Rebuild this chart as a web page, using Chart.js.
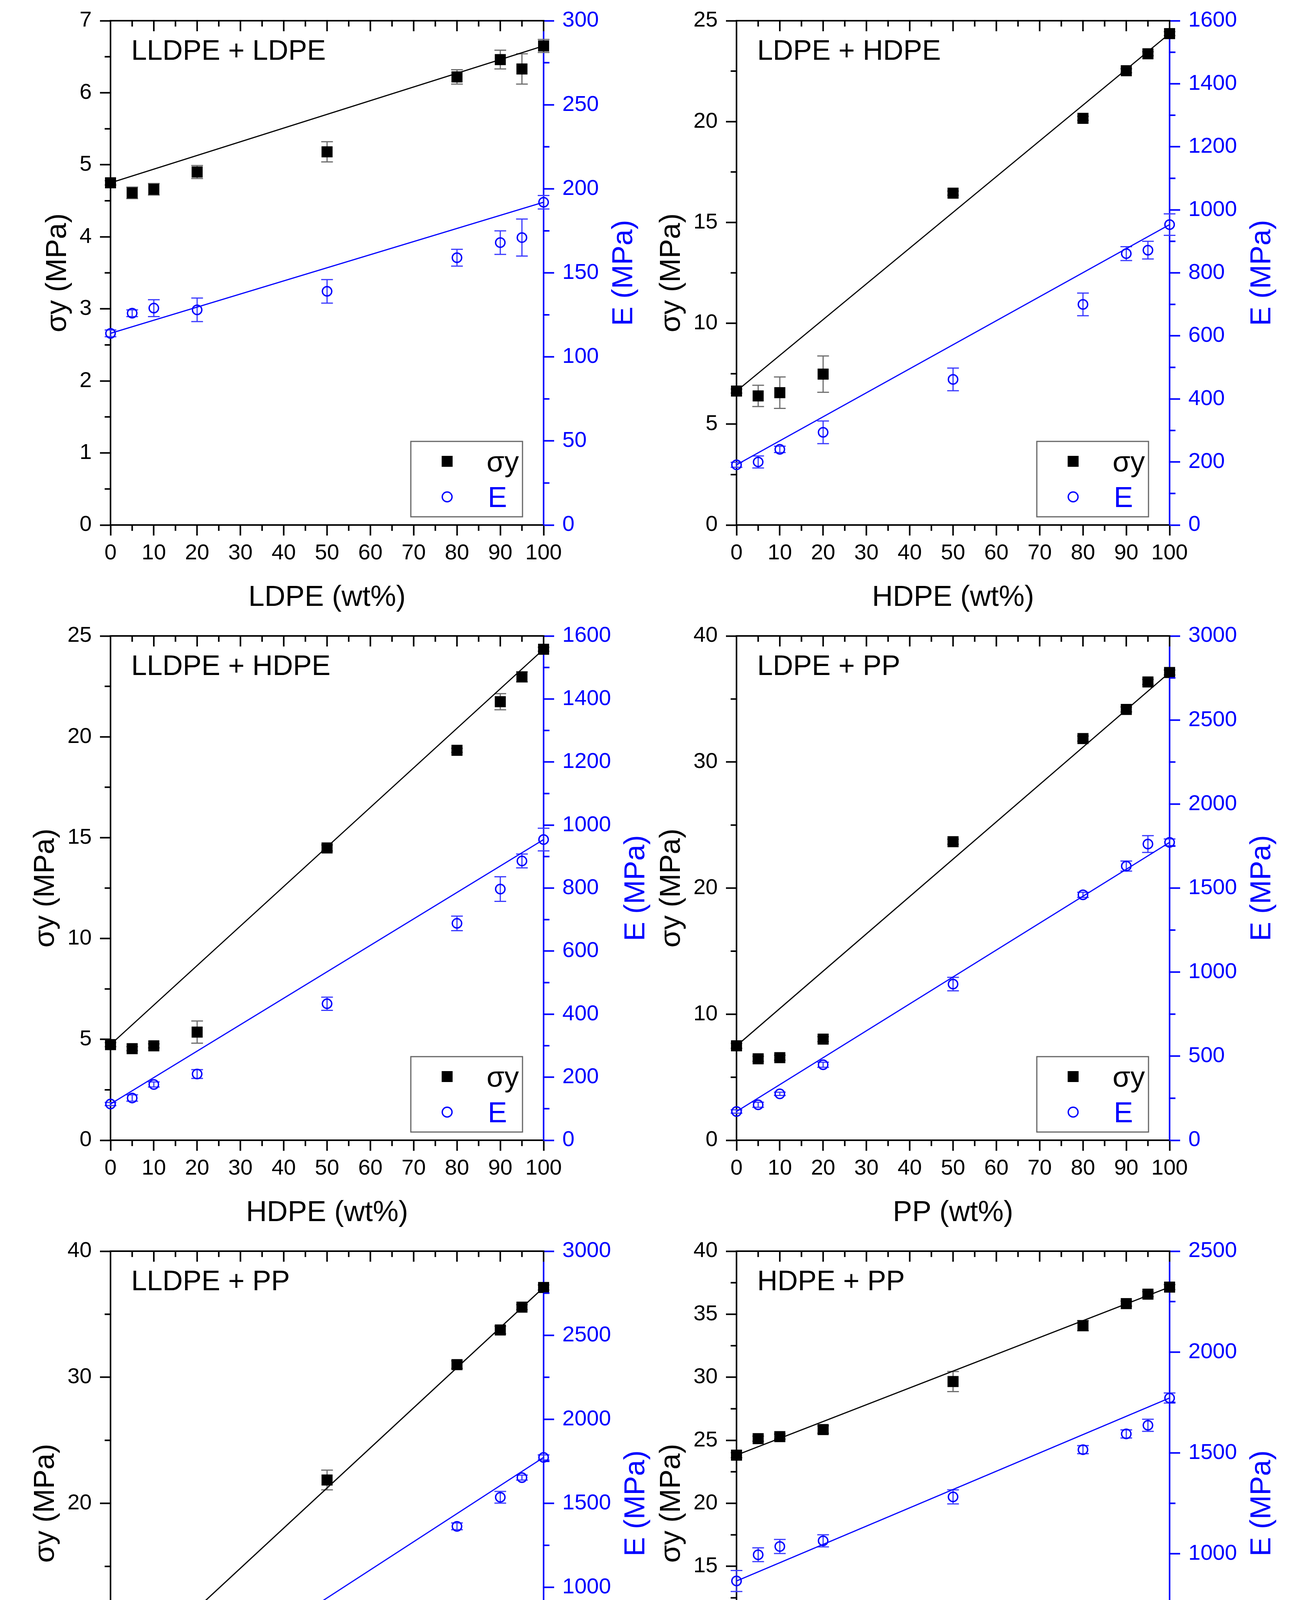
<!DOCTYPE html>
<html>
<head>
<meta charset="utf-8">
<script src="https://cdn.jsdelivr.net/npm/chart.js@4.4.1/dist/chart.umd.min.js"></script>
<style>
  html, body { margin: 0; padding: 0; background: #fff; }
  body { width: 3352px; height: 4730px; position: relative; overflow: hidden; }
  canvas { position: absolute; }
</style>
</head>
<body>
<canvas id="c0"></canvas>
<canvas id="c1"></canvas>
<canvas id="c2"></canvas>
<canvas id="c3"></canvas>
<canvas id="c4"></canvas>
<canvas id="c5"></canvas>
<script>
// composition of the blends (wt% of the second polymer)
const blendX = [0, 5, 10, 20, 50, 80, 90, 95, 100];

// LLDPE + LDPE
const sigLLDPE_LDPE    = [4.75, 4.61, 4.66, 4.90, 5.18, 6.22, 6.46, 6.33, 6.65];
const sigErrLLDPE_LDPE = [0.03, 0.08, 0.08, 0.09, 0.14, 0.10, 0.13, 0.21, 0.09];
const modLLDPE_LDPE    = [114, 126, 129, 128, 139, 159, 168, 171, 192];
const modErrLLDPE_LDPE = [2, 2, 5, 7, 7, 5, 7, 11, 4];

// LDPE + HDPE
const sigLDPE_HDPE    = [6.64, 6.40, 6.56, 7.48, 16.45, 20.16, 22.52, 23.36, 24.36];
const sigErrLDPE_HDPE = [0.1, 0.53, 0.78, 0.9, 0.1, 0.1, 0.1, 0.1, 0.1];
const modLDPE_HDPE    = [191, 200, 240, 294, 462, 700, 861, 872, 953];
const modErrLDPE_HDPE = [8, 19, 10, 36, 36, 36, 22, 28, 34];

// LLDPE + HDPE
const sigLLDPE_HDPE    = [4.74, 4.54, 4.68, 5.36, 14.49, 19.33, 21.74, 22.97, 24.34];
const sigErrLLDPE_HDPE = [0.1, 0.1, 0.1, 0.55, 0.15, 0.1, 0.4, 0.25, 0.1];
const modLLDPE_HDPE    = [115, 134, 177, 210, 433, 688, 797, 886, 954];
const modErrLLDPE_HDPE = [5, 10, 8, 14, 21, 23, 39, 22, 36];

// LDPE + PP
const sigLDPE_PP    = [7.49, 6.46, 6.55, 8.02, 23.68, 31.86, 34.17, 36.35, 37.10];
const sigErrLDPE_PP = [0.2, 0.2, 0.2, 0.2, 0.2, 0.2, 0.2, 0.2, 0.2];
const modLDPE_PP    = [171, 211, 276, 449, 929, 1460, 1631, 1762, 1772];
const modErrLDPE_PP = [10, 15, 10, 15, 40, 15, 30, 50, 20];

// LLDPE + PP
const sigLLDPE_PP    = [5.31, 5.71, 6.09, 7.02, 21.85, 31.0, 33.75, 35.56, 37.12];
const sigErrLLDPE_PP = [0.2, 0.2, 0.2, 0.56, 0.78, 0.3, 0.3, 0.2, 0.2];
const modLLDPE_PP    = [101, 133, 157, 288, 794, 1363, 1536, 1653, 1773];
const modErrLLDPE_PP = [10, 10, 12, 40, 43, 20, 35, 15, 15];

// HDPE + PP
const sigHDPE_PP    = [23.82, 25.13, 25.29, 25.85, 29.66, 34.09, 35.84, 36.59, 37.15];
const sigErrHDPE_PP = [0.2, 0.2, 0.2, 0.3, 0.8, 0.4, 0.2, 0.2, 0.2];
const modHDPE_PP    = [865, 995, 1036, 1064, 1282, 1516, 1594, 1637, 1772];
const modErrHDPE_PP = [52, 34, 35, 30, 35, 20, 20, 30, 25];

const panelTitles = ['LLDPE + LDPE', 'LDPE + HDPE', 'LLDPE + HDPE', 'LDPE + PP', 'LLDPE + PP', 'HDPE + PP'];
const xTitles = ['LDPE (wt%)', 'HDPE (wt%)', 'HDPE (wt%)', 'PP (wt%)', 'PP (wt%)', 'PP (wt%)'];
const xTicks = [0, 10, 20, 30, 40, 50, 60, 70, 80, 90, 100];
const sigMax  = [7, 25, 25, 40, 40, 40];
const sigStep = [1, 5, 5, 10, 10, 5];
const modMax  = [300, 1600, 1600, 3000, 3000, 2500];
const modStep = [50, 200, 200, 500, 500, 500];
const legendLabels = ['σy', 'E'];
const leftTitle = 'σy (MPa)';
const rightTitle = 'E (MPa)';

const sigSeries = [sigLLDPE_LDPE, sigLDPE_HDPE, sigLLDPE_HDPE, sigLDPE_PP, sigLLDPE_PP, sigHDPE_PP];
const sigErrSeries = [sigErrLLDPE_LDPE, sigErrLDPE_HDPE, sigErrLLDPE_HDPE, sigErrLDPE_PP, sigErrLLDPE_PP, sigErrHDPE_PP];
const modSeries = [modLLDPE_LDPE, modLDPE_HDPE, modLLDPE_HDPE, modLDPE_PP, modLLDPE_PP, modHDPE_PP];
const modErrSeries = [modErrLLDPE_LDPE, modErrLDPE_HDPE, modErrLLDPE_HDPE, modErrLDPE_PP, modErrLLDPE_PP, modErrHDPE_PP];

const BLUE = '#0000ff';
const FONT = "'Liberation Sans', Arial, sans-serif";
const CW = 1749, CH = 1575;
const COL_STEP = 1603, ROW_STEP = 1575;
const PAD_TOP = 53, Y_W = 283, PLOT_W = 1109, PLOT_H = 1291;
const MAJOR = 27, MINOR = 15, TICK_W = 4;

Chart.defaults.font.family = FONT;

function points(ys) {
    return blendX.map((x, k) => ({ x: x, y: ys[k] }));
}

function ends(ys) {
    const n = blendX.length - 1;
    return [{ x: blendX[0], y: ys[0] }, { x: blendX[n], y: ys[n] }];
}

const decor = {
    id: 'decor',
    beforeDatasetsDraw(chart, args, o) {
        const ctx = chart.ctx;
        const xs = chart.scales.x;
        // error bars
        [[o.sig, o.sigErr, chart.scales.y, '#6e6e6e'], [o.mod, o.modErr, chart.scales.y2, '#3a3aff']].forEach(([vals, errs, sc, col]) => {
            ctx.save();
            ctx.strokeStyle = col;
            ctx.lineWidth = 3;
            vals.forEach((v, k) => {
                const px = xs.getPixelForValue(blendX[k]);
                const t = sc.getPixelForValue(v + errs[k]);
                const b = sc.getPixelForValue(v - errs[k]);
                ctx.beginPath();
                ctx.moveTo(px, t); ctx.lineTo(px, b);
                ctx.moveTo(px - 15, t); ctx.lineTo(px + 15, t);
                ctx.moveTo(px - 15, b); ctx.lineTo(px + 15, b);
                ctx.stroke();
            });
            ctx.restore();
        });
    },
    afterDraw(chart, args, o) {
        const ctx = chart.ctx;
        const a = chart.chartArea;
        const xs = chart.scales.x, ys = chart.scales.y, y2 = chart.scales.y2;
        ctx.save();
        ctx.lineWidth = TICK_W;

        // top frame line with inward ticks, minor ticks on the bottom
        ctx.strokeStyle = '#000';
        ctx.beginPath();
        ctx.moveTo(a.left - 2, a.top); ctx.lineTo(a.right + 2, a.top);
        for (let v = 0; v <= 100; v += 5) {
            const px = xs.getPixelForValue(v);
            const len = v % 10 === 0 ? MAJOR : MINOR;
            ctx.moveTo(px, a.top); ctx.lineTo(px, a.top + len);
            if (v % 10 !== 0) { ctx.moveTo(px, a.bottom); ctx.lineTo(px, a.bottom + MINOR); }
        }
        ctx.stroke();

        // minor ticks left axis
        ctx.beginPath();
        for (let v = o.sigStep / 2; v < o.sigMax; v += o.sigStep) {
            const py = ys.getPixelForValue(v);
            ctx.moveTo(a.left, py); ctx.lineTo(a.left - MINOR, py);
        }
        ctx.stroke();

        // minor ticks right axis
        ctx.strokeStyle = BLUE;
        ctx.beginPath();
        for (let v = o.modStep / 2; v < o.modMax; v += o.modStep) {
            const py = y2.getPixelForValue(v);
            ctx.moveTo(a.right, py); ctx.lineTo(a.right + MINOR, py);
        }
        ctx.stroke();

        // axis titles
        ctx.font = '56px ' + FONT;
        const wl = Math.max(...ys.ticks.map(t => ctx.measureText(String(t.value)).width));
        const wr = Math.max(...y2.ticks.map(t => ctx.measureText(String(t.value)).width));
        const cy = (a.top + a.bottom) / 2;
        ctx.font = '74px ' + FONT;
        ctx.textAlign = 'center';
        ctx.textBaseline = 'middle';
        ctx.fillStyle = '#000';
        ctx.fillText(o.xTitle, (a.left + a.right) / 2, a.bottom + 187);

        ctx.save();
        ctx.translate(a.left - MAJOR - 21 - wl - 55, cy);
        ctx.rotate(-Math.PI / 2);
        ctx.fillText(leftTitle, 0, 0);
        ctx.restore();

        ctx.save();
        ctx.fillStyle = BLUE;
        ctx.translate(a.right + MAJOR + 21 + wr + 65, cy);
        ctx.rotate(-Math.PI / 2);
        ctx.fillText(rightTitle, 0, 0);
        ctx.restore();

        // panel label
        ctx.font = '72px ' + FONT;
        ctx.textAlign = 'left';
        ctx.textBaseline = 'alphabetic';
        ctx.fillText(o.title, a.left + 53, a.top + 100);

        // legend box
        const bw = 286, bh = 193;
        const bx = a.right - 54 - bw, by = a.bottom - 21 - bh;
        ctx.fillStyle = '#fff';
        ctx.fillRect(bx, by, bw, bh);
        ctx.strokeStyle = '#666';
        ctx.lineWidth = 3;
        ctx.strokeRect(bx, by, bw, bh);
        const mx = bx + 93;
        ctx.fillStyle = '#000';
        ctx.fillRect(mx - 14, by + 37, 28, 28);
        ctx.strokeStyle = BLUE;
        ctx.lineWidth = 3.5;
        ctx.beginPath();
        ctx.arc(mx, by + 142, 12.5, 0, Math.PI * 2);
        ctx.stroke();
        ctx.font = '74px ' + FONT;
        ctx.fillStyle = '#000';
        ctx.fillText(legendLabels[0], bx + 194, by + 77);
        ctx.fillStyle = BLUE;
        ctx.fillText(legendLabels[1], bx + 197, by + 168);
        ctx.restore();
    }
};

function makeChart(i) {
    const col = i % 2, row = Math.floor(i / 2);
    const cv = document.getElementById('c' + i);
    cv.width = CW;
    cv.height = CH;
    cv.style.left = (col * COL_STEP) + 'px';
    cv.style.top = (row * ROW_STEP) + 'px';
    const sig = sigSeries[i], mod = modSeries[i];

    new Chart(cv, {
        type: 'scatter',
        data: {
            datasets: [
                { data: points(sig), yAxisID: 'y', pointStyle: 'rect', pointRadius: 20,
                  backgroundColor: '#000', borderColor: '#000', borderWidth: 0, clip: false, order: 1 },
                { data: points(mod), yAxisID: 'y2', pointStyle: 'circle', pointRadius: 12,
                  backgroundColor: 'rgba(0,0,0,0)', borderColor: BLUE, borderWidth: 3.5, clip: false, order: 1 },
                { type: 'line', data: ends(sig), yAxisID: 'y', borderColor: '#000', borderWidth: 3,
                  pointRadius: 0, fill: false, order: 2 },
                { type: 'line', data: ends(mod), yAxisID: 'y2', borderColor: BLUE, borderWidth: 3,
                  pointRadius: 0, fill: false, order: 2 }
            ]
        },
        options: {
            responsive: false,
            animation: false,
            devicePixelRatio: 1,
            layout: { padding: { top: PAD_TOP, left: 0, right: 0, bottom: 0 }, autoPadding: false },
            plugins: {
                legend: { display: false },
                tooltip: { enabled: false },
                decor: {
                    title: panelTitles[i], xTitle: xTitles[i],
                    sig: sig, sigErr: sigErrSeries[i], mod: mod, modErr: modErrSeries[i],
                    sigMax: sigMax[i], sigStep: sigStep[i], modMax: modMax[i], modStep: modStep[i]
                }
            },
            scales: {
                x: {
                    type: 'linear', position: 'bottom', min: xTicks[0], max: xTicks[xTicks.length - 1],
                    afterBuildTicks(s) { s.ticks = xTicks.map(v => ({ value: v })); },
                    ticks: { autoSkip: false, maxRotation: 0, color: '#000', font: { size: 56, lineHeight: 1 },
                             padding: 18, callback: v => String(v) },
                    grid: { drawOnChartArea: false, drawTicks: true, tickLength: MAJOR, tickWidth: TICK_W, tickColor: '#000' },
                    border: { display: true, color: '#000', width: TICK_W },
                    afterFit(s) { s.height = CH - PAD_TOP - PLOT_H; }
                },
                y: {
                    type: 'linear', position: 'left', min: 0, max: sigMax[i],
                    ticks: { stepSize: sigStep[i], autoSkip: false, color: '#000', font: { size: 56, lineHeight: 1 },
                             padding: 21, callback: v => String(v) },
                    grid: { drawOnChartArea: false, drawTicks: true, tickLength: MAJOR, tickWidth: TICK_W, tickColor: '#000' },
                    border: { display: true, color: '#000', width: TICK_W },
                    afterFit(s) { s.width = Y_W; }
                },
                y2: {
                    type: 'linear', position: 'right', min: 0, max: modMax[i],
                    ticks: { stepSize: modStep[i], autoSkip: false, color: BLUE, font: { size: 56, lineHeight: 1 },
                             padding: 21, callback: v => String(v) },
                    grid: { drawOnChartArea: false, drawTicks: true, tickLength: MAJOR, tickWidth: TICK_W, tickColor: BLUE },
                    border: { display: true, color: BLUE, width: TICK_W },
                    afterFit(s) { s.width = CW - Y_W - PLOT_W; }
                }
            }
        },
        plugins: [decor]
    });
}

for (let i = 0; i < 6; i++) makeChart(i);
</script>
</body>
</html>
